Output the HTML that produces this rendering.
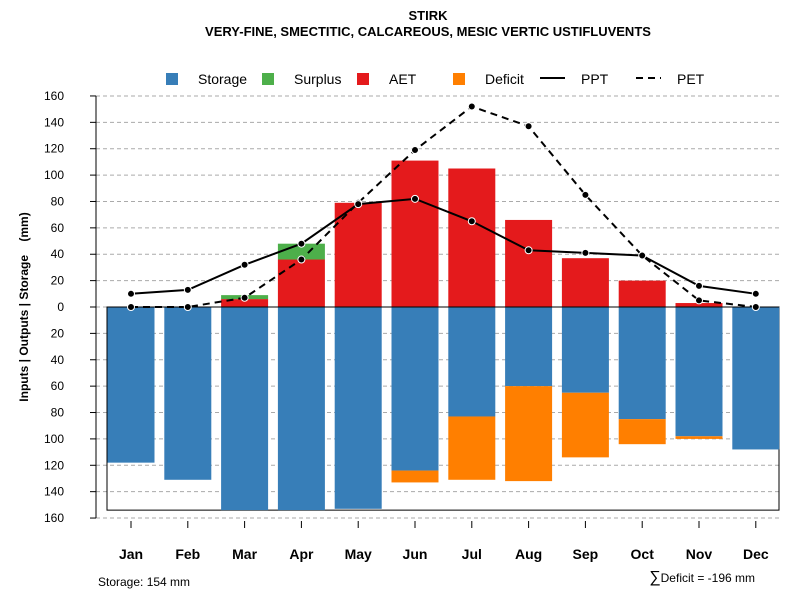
<!DOCTYPE html>
<html><head><meta charset="utf-8"><style>
body{margin:0;background:#fff;}
svg{display:block;font-family:"Liberation Sans",sans-serif;}
</style></head><body>
<svg id="c" width="800" height="600">
<text x="428" y="20" text-anchor="middle" font-size="13" font-weight="bold">STIRK</text>
<text x="428" y="36" text-anchor="middle" font-size="13" font-weight="bold">VERY-FINE, SMECTITIC, CALCAREOUS, MESIC VERTIC USTIFLUVENTS</text>
<g id="legend" font-size="14">
<rect x="166" y="73" width="12" height="12" fill="#377eb8"/>
<text x="198" y="84">Storage</text>
<rect x="262" y="73" width="12" height="12" fill="#4daf4a"/>
<text x="294" y="84">Surplus</text>
<rect x="357" y="73" width="12" height="12" fill="#e41a1c"/>
<text x="389" y="84">AET</text>
<rect x="453" y="73" width="12" height="12" fill="#ff7f00"/>
<text x="485" y="84">Deficit</text>
<line x1="540" y1="78" x2="565" y2="78" stroke="#000" stroke-width="2"/>
<text x="581" y="84">PPT</text>
<line x1="636" y1="78" x2="661" y2="78" stroke="#000" stroke-width="2" stroke-dasharray="7,5"/>
<text x="677" y="84">PET</text>
</g>
<text transform="translate(28,307) rotate(-90)" text-anchor="middle" font-size="12" font-weight="bold">Inputs | Outputs | Storage&#160;&#160;&#160;&#160;(mm)</text>
<text x="98" y="586" font-size="12">Storage: 154 mm</text>
<text x="755" y="582" text-anchor="end" font-size="12"><tspan font-size="16">∑</tspan>Deficit = -196 mm</text>
</svg>
<script>
const months=["Jan","Feb","Mar","Apr","May","Jun","Jul","Aug","Sep","Oct","Nov","Dec"];
const storage=[118,131,154,154,153,124,83,60,65,85,98,108];
const deficit=[0,0,0,0,0,9,48,72,49,19,2,0];
const aet=[0,0,6,36,79,111,105,66,37,20,3,0];
const surplus=[0,0,3,12,0,0,0,0,0,0,0,0];
const ppt=[10,13,32,48,78,82,65,43,41,39,16,10];
const pet=[0,0,7,36,79,119,152,137,85,39,5,0];
const yTicks=[-160,-140,-120,-100,-80,-60,-40,-20,0,20,40,60,80,100,120,140,160];
const maxStorage=154;

const svg=document.getElementById('c');
const NS="http://www.w3.org/2000/svg";
const y0=307,k=1.319;
const Y=v=>y0-v*k;
const X=i=>131+i*56.8;
const bw=47;
function mk(t,a,p){const e=document.createElementNS(NS,t);for(const n in a)e.setAttribute(n,a[n]);(p||svg).appendChild(e);return e;}
yTicks.forEach(t=>{
 const g=mk('line',{x1:96,x2:782,y1:Y(t),y2:Y(t),stroke:'#aaa','stroke-dasharray':'4,3'});
 
 
 const tk=mk('line',{x1:90,x2:96,y1:Y(t),y2:Y(t),stroke:'#000'});
 
 
 const tx=mk('text',{x:64,y:Y(t)+4,'text-anchor':'end','font-size':12});
 tx.textContent=Math.abs(t);
 
 
});
const ax=mk('line',{x1:96,x2:96,y1:Y(160),y2:Y(-160),stroke:'#000'});


const box=mk('rect',{x:107,y:y0,width:672,height:maxStorage*k,fill:'none',stroke:'#000'});


months.forEach((m,i)=>{
 const x=X(i)-bw/2;
 const s=mk('rect',{x:x,y:y0,width:bw,height:storage[i]*k,fill:'#377eb8'});
 
 
 if(deficit[i]>0){const d=mk('rect',{x:x,y:Y(-storage[i]),width:bw,height:deficit[i]*k,fill:'#ff7f00'});
 
 }
 if(aet[i]>0){const a=mk('rect',{x:x,y:Y(aet[i]),width:bw,height:aet[i]*k,fill:'#e41a1c'});
 
 }
 if(surplus[i]>0){const u=mk('rect',{x:x,y:Y(aet[i]+surplus[i]),width:bw,height:surplus[i]*k,fill:'#4daf4a'});
 
 }
 const t=mk('line',{x1:X(i),x2:X(i),y1:521,y2:528,stroke:'#000'});
 
 
 const l=mk('text',{x:X(i),y:559,'text-anchor':'middle','font-size':14,'font-weight':'bold'});
 l.textContent=m;
 
 
});
const zl=mk('line',{x1:107,x2:779,y1:y0,y2:y0,stroke:'#000'});


function series(vals,name,dash){
 const p=mk('polyline',{points:vals.map((v,i)=>X(i)+','+Y(v)).join(' '),fill:'none',stroke:'#000','stroke-width':2,'stroke-dasharray':dash||'none'});
 
 
 vals.forEach((v,i)=>{const c=mk('circle',{cx:X(i),cy:Y(v),r:3.5,fill:'#000',stroke:'#fff','stroke-width':1});
 
 });
}
series(pet,'pet','7,5');
series(ppt,'ppt');
</script>
</body></html>
